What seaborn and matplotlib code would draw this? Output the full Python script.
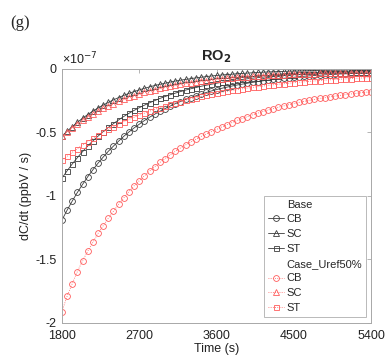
import numpy as np
import pandas as pd
import matplotlib
matplotlib.use("Agg")
import matplotlib.pyplot as plt
import seaborn as sns
from matplotlib.lines import Line2D

# ---------------- data (dC/dt in units of 1e-7 ppbV/s) ----------------
time_s = np.arange(1800, 5401, 60)

base_CB = [-1.190, -1.112, -1.040, -0.972, -0.909, -0.849, -0.794, -0.742, -0.694, -0.648,
           -0.607, -0.568, -0.530, -0.496, -0.464, -0.435, -0.406, -0.380, -0.356, -0.333,
           -0.312, -0.292, -0.273, -0.256, -0.240, -0.225, -0.211, -0.198, -0.185, -0.173,
           -0.162, -0.152, -0.143, -0.134, -0.126, -0.119, -0.112, -0.105, -0.099, -0.093,
           -0.088, -0.082, -0.078, -0.073, -0.069, -0.065, -0.061, -0.057, -0.054, -0.051,
           -0.049, -0.046, -0.044, -0.042, -0.039, -0.038, -0.036, -0.034, -0.032, -0.031,
           -0.030]
base_SC = [-0.530, -0.490, -0.454, -0.420, -0.388, -0.359, -0.332, -0.307, -0.284, -0.263,
           -0.243, -0.225, -0.208, -0.192, -0.178, -0.165, -0.152, -0.141, -0.130, -0.121,
           -0.112, -0.103, -0.095, -0.088, -0.082, -0.076, -0.070, -0.065, -0.060, -0.055,
           -0.051, -0.047, -0.044, -0.041, -0.037, -0.035, -0.032, -0.030, -0.027, -0.025,
           -0.023, -0.022, -0.020, -0.019, -0.017, -0.016, -0.015, -0.014, -0.013, -0.012,
           -0.011, -0.010, -0.009, -0.009, -0.008, -0.008, -0.007, -0.007, -0.006, -0.006,
           -0.005]
base_ST = [-0.860, -0.802, -0.748, -0.698, -0.651, -0.607, -0.566, -0.529, -0.493, -0.460,
           -0.430, -0.401, -0.374, -0.349, -0.326, -0.305, -0.285, -0.266, -0.249, -0.232,
           -0.217, -0.203, -0.190, -0.178, -0.166, -0.156, -0.146, -0.136, -0.128, -0.120,
           -0.112, -0.105, -0.099, -0.093, -0.087, -0.082, -0.077, -0.072, -0.068, -0.064,
           -0.060, -0.057, -0.054, -0.051, -0.048, -0.045, -0.043, -0.041, -0.039, -0.037,
           -0.035, -0.033, -0.032, -0.030, -0.029, -0.028, -0.026, -0.025, -0.024, -0.023,
           -0.022]
uref_CB = [-1.910, -1.790, -1.690, -1.595, -1.510, -1.435, -1.365, -1.295, -1.235, -1.175,
           -1.120, -1.065, -1.015, -0.965, -0.920, -0.880, -0.841, -0.804, -0.770, -0.736,
           -0.705, -0.676, -0.648, -0.622, -0.598, -0.575, -0.553, -0.531, -0.512, -0.493,
           -0.476, -0.457, -0.439, -0.422, -0.405, -0.390, -0.375, -0.361, -0.348, -0.335,
           -0.323, -0.312, -0.301, -0.291, -0.281, -0.272, -0.263, -0.255, -0.247, -0.240,
           -0.232, -0.226, -0.219, -0.213, -0.208, -0.202, -0.197, -0.192, -0.187, -0.183,
           -0.179]
uref_SC = [-0.530, -0.495, -0.463, -0.433, -0.405, -0.378, -0.354, -0.331, -0.310, -0.290,
           -0.272, -0.255, -0.239, -0.224, -0.210, -0.197, -0.185, -0.174, -0.163, -0.153,
           -0.144, -0.136, -0.128, -0.121, -0.114, -0.107, -0.101, -0.096, -0.091, -0.086,
           -0.081, -0.077, -0.073, -0.070, -0.066, -0.063, -0.060, -0.057, -0.055, -0.052,
           -0.050, -0.048, -0.046, -0.045, -0.043, -0.041, -0.040, -0.038, -0.037, -0.036,
           -0.035, -0.034, -0.033, -0.032, -0.031, -0.031, -0.030, -0.029, -0.029, -0.028,
           -0.027]
uref_ST = [-0.720, -0.687, -0.656, -0.627, -0.598, -0.571, -0.546, -0.521, -0.498, -0.476,
           -0.455, -0.435, -0.416, -0.397, -0.380, -0.363, -0.348, -0.332, -0.318, -0.305,
           -0.292, -0.279, -0.267, -0.256, -0.245, -0.235, -0.225, -0.216, -0.207, -0.199,
           -0.191, -0.183, -0.176, -0.169, -0.163, -0.156, -0.150, -0.145, -0.139, -0.134,
           -0.129, -0.124, -0.120, -0.116, -0.112, -0.108, -0.104, -0.101, -0.097, -0.094,
           -0.091, -0.088, -0.085, -0.083, -0.080, -0.078, -0.076, -0.073, -0.071, -0.069,
           -0.068]

x_ticks = [1800, 2700, 3600, 4500, 5400]
y_ticks = [-2, -1.5, -1, -0.5, 0]
species = ["CB", "SC", "ST"]
groups = ["Base", "Case_Uref50%"]
scale = 1e-7

# ---------------- style ----------------
sns.set_style("white")
plt.rcParams["font.family"] = ["Liberation Sans", "DejaVu Sans"]
plt.rcParams["axes.unicode_minus"] = False

black = "#3c3c3c"
red = "#ff5c5c"
markers = {"CB": "o", "SC": "^", "ST": "s"}
msize = {"CB": 4.2, "SC": 4.2, "ST": 3.6}
series = {
    ("Base", "CB"): base_CB, ("Base", "SC"): base_SC, ("Base", "ST"): base_ST,
    ("Case_Uref50%", "CB"): uref_CB, ("Case_Uref50%", "SC"): uref_SC, ("Case_Uref50%", "ST"): uref_ST,
}

fig = plt.figure(figsize=(3.87, 3.59), dpi=100)
ax = fig.add_axes([0.160, 0.1003, 0.799, 0.7075])

handles = []
labels = []
for g in groups:
    col = black if g == "Base" else red
    ls = "-" if g == "Base" else ":"
    handles.append(Line2D([], [], linestyle="none", marker=None))
    labels.append(g)
    for sp in species:
        vals = np.asarray(series[(g, sp)]) * scale
        sns.lineplot(x=time_s, y=vals, ax=ax, color=col, linestyle=ls, linewidth=0.6,
                     marker=markers[sp], markersize=msize[sp],
                     markerfacecolor="none", markeredgecolor=col, markeredgewidth=0.6,
                     legend=False, errorbar=None)
        handles.append(Line2D([], [], color=col, linestyle=ls, linewidth=0.6,
                              marker=markers[sp], markersize=msize[sp],
                              markerfacecolor="none", markeredgecolor=col, markeredgewidth=0.6))
        labels.append(sp)

ax.set_xlim(1800, 5400)
ax.set_ylim(-2 * scale, 0)
ax.set_xticks(x_ticks)
ax.set_xticklabels([str(t) for t in x_ticks])
ax.set_yticks([v * scale for v in y_ticks])
ax.set_yticklabels(["%g" % v for v in y_ticks])

for s in ax.spines.values():
    s.set_color("#a8a8a8")
    s.set_linewidth(0.7)
ax.tick_params(direction="in", top=True, right=True, length=3, width=0.6,
               color="#a8a8a8", labelsize=9, labelcolor="#222222", pad=4)
ax.tick_params(axis="x", pad=5)

ax.set_xlabel("Time (s)", fontsize=9, color="#222222", labelpad=1)
ax.set_ylabel("dC/dt (ppbV / s)", fontsize=9, color="#222222", labelpad=2)
ax.set_title("RO$_\\mathbf{2}$", fontsize=10.5, fontweight="bold", pad=6)
ax.text(0.0, 1.005, "\u00d710$^{-7}$", transform=ax.transAxes, ha="left", va="bottom",
        fontsize=9, color="#222222")

fig.text(0.026, 0.958, "(g)", family=["Liberation Serif", "DejaVu Serif"], fontsize=12,
         ha="left", va="top")

leg = ax.legend(handles, labels, loc="lower right", bbox_to_anchor=(0.984, 0.024),
                borderaxespad=0, fontsize=8, frameon=True, fancybox=False,
                handlelength=1.4, handletextpad=0.25, labelspacing=0.43, borderpad=0.35)
leg.get_frame().set_edgecolor("#a8a8a8")
leg.get_frame().set_linewidth(0.7)

fig.savefig("out.png", dpi=100)
